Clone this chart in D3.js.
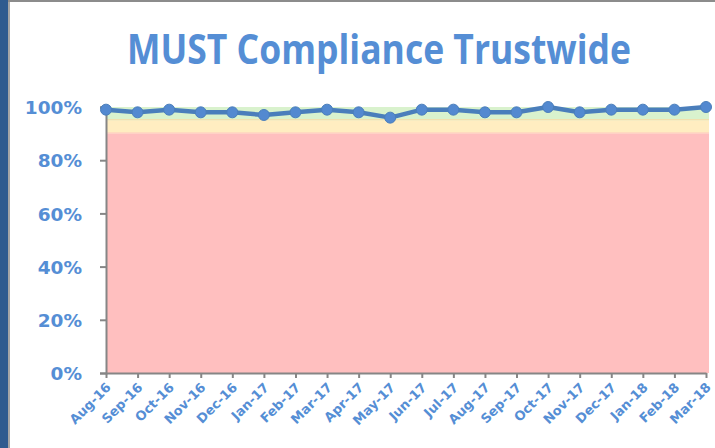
<!DOCTYPE html>
<html>
<head>
<meta charset="utf-8">
<script src="https://cdn.jsdelivr.net/npm/d3@7"></script>
<style>
  body { margin: 0; background: #fff; }
  svg { display: block; }
</style>
</head>
<body>
<svg id="chart" width="715" height="448"></svg>
<script>
// months shown on the x axis
var months = ['Aug-16', 'Sep-16', 'Oct-16', 'Nov-16', 'Dec-16', 'Jan-17', 'Feb-17', 'Mar-17',
  'Apr-17', 'May-17', 'Jun-17', 'Jul-17', 'Aug-17', 'Sep-17', 'Oct-17', 'Nov-17',
  'Dec-17', 'Jan-18', 'Feb-18', 'Mar-18'];

// compliance (%) per month
var compliance = [99, 98, 99, 98, 98, 97, 98, 99, 98, 96, 99, 99, 98, 98, 100, 98, 99, 99, 99, 100];

// RAG bands behind the line
var bandNames = ['red', 'amber', 'green'];
var bandFrom = [0, 90, 95];
var bandTo = [90, 95, 100];

var yTicks = [0, 20, 40, 60, 80, 100];

var svg = d3.select('#chart');
var width = 715, height = 448;
var margin = { top: 107, right: 6, bottom: 75, left: 106 };
var plotW = width - margin.left - margin.right;
var plotH = height - margin.top - margin.bottom;

// frame of the slide
svg.append('rect').attr('x', 0).attr('y', 0).attr('width', width).attr('height', height).attr('fill', '#fff');
svg.append('rect').attr('x', 0).attr('y', 0).attr('width', 8).attr('height', height).attr('fill', '#2f5b8f');
svg.append('rect').attr('x', 8).attr('y', 0).attr('width', 2).attr('height', height).attr('fill', '#a6a6a6');
svg.append('rect').attr('x', 8).attr('y', 0).attr('width', width).attr('height', 2).attr('fill', '#8c8c8c');

svg.append('text')
  .attr('x', 127).attr('y', 64)
  .attr('textLength', 504)
  .attr('lengthAdjust', 'spacingAndGlyphs')
  .attr('font-family', '"Open Sans", "Noto Sans", sans-serif')
  .attr('font-weight', 'bold')
  .attr('font-size', 41)
  .attr('fill', '#558ed5')
  .text('MUST Compliance Trustwide');

var x = d3.scalePoint().domain(months).range([0, plotW - 3]);
var y = d3.scaleLinear().domain([0, 100]).range([plotH, 0]);

var g = svg.append('g').attr('transform', 'translate(' + margin.left + ',' + margin.top + ')');

var bandColors = { red: '#ffbfbf', amber: '#ffedc1', green: '#d9f2cd' };
var bandEdges = { red: '#ffbfbf', amber: '#fbd9a0', green: '#c8e8b4' };

g.selectAll('.band').data(bandNames).enter().append('rect')
  .classed('band', true)
  .attr('x', 0)
  .attr('width', plotW)
  .attr('y', function(d, i) { return y(bandTo[i]); })
  .attr('height', function(d, i) { return y(bandFrom[i]) - y(bandTo[i]); })
  .attr('fill', function(d) { return bandColors[d]; });

g.selectAll('.bandEdge').data(bandNames).enter().append('line')
  .classed('bandEdge', true)
  .attr('x1', 0).attr('x2', plotW)
  .attr('y1', function(d, i) { return y(bandFrom[i]) - 0.5; })
  .attr('y2', function(d, i) { return y(bandFrom[i]) - 0.5; })
  .attr('stroke', function(d, i) { return i === 0 ? 'none' : bandEdges[bandNames[i - 1]]; });

// axes
var yAxis = g.append('g')
  .call(d3.axisLeft(y).tickValues(yTicks).tickSize(6).tickPadding(18)
    .tickFormat(function(d) { return d + '%'; }));
yAxis.select('.domain').attr('stroke', '#868686').attr('stroke-width', 2);
yAxis.selectAll('.tick line').attr('stroke', '#868686').attr('stroke-width', 2);
yAxis.selectAll('.tick text')
  .attr('font-family', '"DejaVu Sans", Verdana, sans-serif')
  .attr('font-weight', 'bold')
  .attr('font-size', 18.5)
  .attr('fill', '#558ed5')
  .attr('dy', '0.36em');

var xAxis = g.append('g')
  .attr('transform', 'translate(0,' + plotH + ')')
  .call(d3.axisBottom(x).tickSize(5).tickSizeOuter(0));
xAxis.select('.domain').attr('stroke', '#868686').attr('stroke-width', 2);
xAxis.selectAll('.tick line').attr('stroke', '#868686').attr('stroke-width', 2);
xAxis.selectAll('.tick text')
  .attr('font-family', '"DejaVu Sans", Verdana, sans-serif')
  .attr('font-weight', 'bold')
  .attr('font-size', 13)
  .attr('fill', '#558ed5')
  .attr('text-anchor', 'end')
  .attr('x', 0)
  .attr('y', 0)
  .attr('dy', '0.35em')
  .attr('transform', 'translate(2,12) rotate(-45)');

// the line and its markers
var line = d3.line()
  .x(function(d, i) { return x(months[i]); })
  .y(function(d) { return y(d); });

g.append('path')
  .datum(compliance)
  .attr('d', line)
  .attr('fill', 'none')
  .attr('stroke', '#4a7ebb')
  .attr('stroke-width', 4.5)
  .attr('stroke-linejoin', 'round');

g.selectAll('.pt').data(compliance).enter().append('circle')
  .classed('pt', true)
  .attr('cx', function(d, i) { return x(months[i]); })
  .attr('cy', function(d) { return y(d); })
  .attr('r', 5.5)
  .attr('fill', '#5389d0')
  .attr('stroke', '#4a7ebb')
  .attr('stroke-width', 1);
</script>
</body>
</html>
